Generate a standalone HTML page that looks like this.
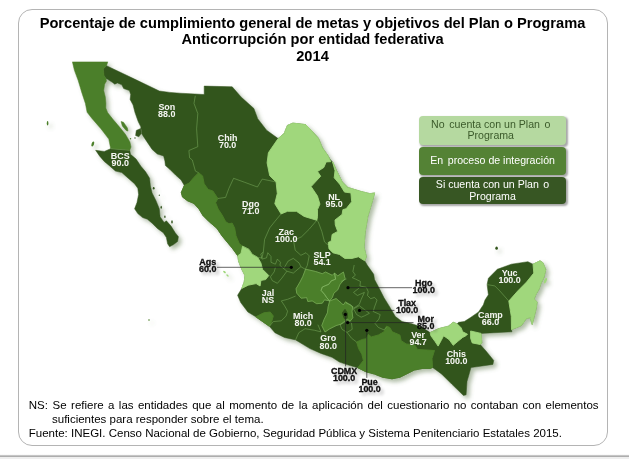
<!DOCTYPE html>
<html lang="es"><head><meta charset="utf-8"><title>Porcentaje de cumplimiento</title>
<style>
html,body{margin:0;padding:0;background:#fff;}
body{width:629px;height:459px;position:relative;overflow:hidden;font-family:"Liberation Sans",sans-serif;}
.frame{position:absolute;left:18px;top:9px;width:588px;height:435px;border:1px solid #b4b4b4;border-radius:14px;box-sizing:content-box;}
.bar{position:absolute;left:0;top:454px;width:629px;height:5px;background:linear-gradient(#fff 0,#f4f4f4 1px,#c6c6c6 1px,#c6c6c6 2px,#adadad 2px,#adadad 3px,#eee 3px,#eee 5px);}
.title{position:absolute;left:18px;width:589px;top:14.7px;text-align:center;font-weight:bold;font-size:14.67px;line-height:16.5px;color:#000;white-space:nowrap;}
.title div{display:block}
.lg{position:absolute;left:419.4px;width:146.3px;border-radius:4px;text-align:center;font-size:10.6px;line-height:11.8px;box-shadow:1.5px 1.5px 2px rgba(0,0,0,.35);white-space:pre;}
.g1{margin-left:1.7px}.g2{margin-left:1.5px}
.foot{position:absolute;font-size:11.5px;color:#000;white-space:nowrap;line-height:14px;}
</style></head><body>
<div class="frame"></div>
<div class="bar"></div>
<div class="title"><div id="t1" style="letter-spacing:0">Porcentaje de cumplimiento general de metas y objetivos del Plan o Programa</div><div id="t2">Anticorrupción por entidad federativa</div><div id="t3">2014</div></div>
<svg width="629" height="459" viewBox="0 0 629 459" style="position:absolute;left:0;top:0">
<defs><filter id="sh" x="-10%" y="-10%" width="125%" height="125%"><feGaussianBlur in="SourceAlpha" stdDeviation="2"/><feOffset dx="2.8" dy="2.8"/><feColorMatrix type="matrix" values="0 0 0 0 0.12  0 0 0 0 0.2  0 0 0 0 0.08  0 0 0 0.5 0"/><feComponentTransfer><feFuncA type="linear" slope="1"/></feComponentTransfer><feMerge><feMergeNode/><feMergeNode in="SourceGraphic"/></feMerge></filter>
<filter id="ts" x="-20%" y="-20%" width="140%" height="140%"><feGaussianBlur in="SourceAlpha" stdDeviation="0.5"/><feOffset dx="0.4" dy="0.4"/><feComponentTransfer><feFuncA type="linear" slope="0.3"/></feComponentTransfer><feMerge><feMergeNode/><feMergeNode in="SourceGraphic"/></feMerge></filter><filter id="tb" x="-30%" y="-30%" width="170%" height="190%"><feGaussianBlur in="SourceAlpha" stdDeviation="1.7"/><feOffset dx="2.5" dy="2.5"/><feComponentTransfer><feFuncA type="linear" slope="0.22"/></feComponentTransfer><feMerge><feMergeNode/><feMergeNode in="SourceGraphic"/></feMerge></filter></defs>
<g filter="url(#sh)">
<g stroke-width="0.6" stroke-linejoin="round">
<polygon points="106.5,65.7 134.5,79.1 159.3,91.0 170.0,92.4 180.0,93.2 204.2,94.5 204.2,86.1 232.2,86.8 241.1,97.0 253.9,108.5 257.7,118.7 266.6,130.2 278.1,138.6 284.2,133.4 287.4,125.4 292.9,123.1 305.6,124.6 310.4,129.4 318.4,138.2 322.3,147.7 327.9,155.6 330.2,159.5 332.6,161.9 336.6,170.7 342.1,181.8 347.7,187.4 360.4,191.3 370.0,193.7 374.7,192.9 371.6,203.7 367.8,216.4 365.2,231.7 364.0,247.0 366.3,256.8 364.7,260.8 367.5,265.5 373.7,274.3 374.5,279.5 378.3,286.6 384.0,297.8 388.8,305.4 395.4,316.6 402.0,321.5 411.0,323.5 421.1,326.8 430.1,332.6 438.8,328.6 448.4,326.2 453.2,322.3 457.1,323.8 458.7,322.3 464.3,321.5 470.6,317.5 478.6,311.9 483.4,304.8 485.0,300.0 488.4,294.8 487.1,284.6 488.4,278.2 497.3,269.3 511.3,264.2 527.9,261.7 533.0,264.2 540.0,260.8 542.9,262.7 545.7,269.6 543.9,277.5 541.0,283.3 539.0,289.2 536.1,294.1 534.1,299.0 537.1,302.0 536.1,308.8 534.1,316.7 532.2,324.5 530.2,317.6 526.3,318.6 521.4,325.5 514.5,328.4 511.5,329.6 512.0,331.8 481.0,333.4 481.8,342.9 480.2,344.5 486.0,351.0 493.7,360.4 492.9,364.4 471.0,367.6 467.0,381.5 466.1,394.8 463.5,395.5 451.7,384.1 441.5,373.9 432.6,367.5 430.0,368.5 422.2,368.5 414.3,370.1 407.9,373.3 400.0,377.2 392.0,378.8 382.5,377.2 374.5,374.1 365.8,371.7 357.8,367.7 349.1,365.3 339.5,362.1 332.0,357.3 321.0,353.4 309.9,348.6 302.0,343.8 295.6,339.9 284.5,337.5 274.9,332.7 269.4,326.3 263.8,322.4 255.8,316.8 247.9,312.0 240.7,302.5 237.6,295.3 241.8,288.4 244.2,282.0 245.0,275.6 241.8,269.3 238.6,261.3 237.8,255.8 232.2,248.0 228.3,243.4 222.0,235.8 216.9,228.2 209.3,221.8 202.9,215.4 199.1,209.1 194.0,203.4 187.6,200.8 182.5,197.0 181.3,192.5 184.3,185.4 181.1,179.9 175.6,175.1 170.0,169.5 165.4,165.5 164.9,161.0 163.6,155.9 157.3,154.0 152.2,149.5 147.1,141.9 142.0,134.3 140.7,126.6 138.2,121.5 135.0,112.6 133.1,105.0 130.1,99.4 130.7,94.4 129.4,90.5 123.7,88.6 121.8,84.8 117.4,82.9 114.8,84.2 112.3,82.3 107.2,79.1 105.9,78.6 103.8,75.3 103.2,68.9" fill="#32541D" stroke="#32541D" stroke-width="0.5"/>
<polygon points="72.4,61.9 107.8,61.9 106.5,65.7 103.4,68.9 104.0,75.3 105.9,78.4 106.5,81.0 104.6,84.2 103.7,90.5 105.3,96.9 105.9,103.3 105.8,108.0 107.6,112.6 112.7,119.0 119.1,126.6 125.4,134.3 129.9,141.9 131.0,147.0 129.7,150.3 110.7,148.7 108.8,139.1 101.1,128.9 92.2,118.7 87.1,112.3 85.4,103.4 82.0,93.2 78.2,80.5 74.4,70.3" fill="#4C7F29" stroke="#4C7F29" stroke-width="0.5"/>
<polygon points="95.6,150.3 104.3,151.4 110.7,148.7 129.7,150.3 130.5,154.3 136.1,159.1 140.9,166.2 145.6,171.8 149.6,178.2 150.4,186.1 152.1,192.9 156.1,200.9 159.3,208.8 160.1,216.8 164.1,222.4 166.4,220.8 171.2,226.3 175.2,232.7 178.4,236.7 177.6,241.4 173.6,244.6 169.6,246.7 167.6,243.8 166.4,237.5 163.3,232.7 157.7,228.7 152.1,223.2 147.4,219.2 142.6,217.6 137.8,213.6 134.6,208.8 137.0,202.5 138.6,194.5 137.8,188.2 134.5,183.7 128.2,178.2 121.8,172.6 115.4,171.0 109.1,165.4 104.3,161.5 99.5,155.9" fill="#32541D" stroke="#32541D" stroke-width="0.5"/>
<polygon points="184.3,185.4 181.3,192.5 182.5,197.0 187.6,200.8 194.0,203.4 199.1,209.1 202.9,215.4 209.3,221.8 216.9,228.2 222.0,235.8 228.3,243.4 232.2,248.0 237.8,255.8 241.0,253.4 242.6,246.2 239.2,243.4 236.0,235.8 234.7,228.2 232.2,223.1 229.0,223.7 225.8,221.8 222.0,214.8 218.2,209.1 215.6,202.7 217.9,198.5 212.9,191.0 208.2,189.4 204.2,183.8 202.6,175.9 198.6,172.7 193.8,177.5 189.1,183.1" fill="#4C7F29" stroke="#4C7F29" stroke-width="0.9"/>
<polygon points="278.1,138.6 284.2,133.4 287.4,125.4 292.9,123.1 305.6,124.6 310.4,129.4 318.4,138.2 322.3,147.7 327.9,155.6 330.8,161.7 326.2,161.9 323.8,167.5 317.5,171.5 320.7,176.2 311.1,186.6 317.5,196.1 319.9,204.1 317.5,209.6 317.5,216.8 316.8,220.3 304.1,216.4 296.4,211.3 287.5,211.3 281.1,213.9 274.8,203.7 277.3,193.5 276.1,182.0 269.7,175.7 267.1,162.9 268.4,152.7" fill="#A0D77C" stroke="#A0D77C" stroke-width="0.9"/>
<polygon points="332.6,161.9 336.6,170.7 342.1,181.8 347.7,187.4 360.4,191.3 370.0,193.7 374.7,192.9 371.6,203.7 367.8,216.4 365.2,231.7 364.0,247.0 366.3,256.8 364.7,260.8 358.4,256.8 352.0,258.4 344.8,258.4 339.3,254.4 332.9,252.8 329.0,248.8 328.2,242.5 331.3,240.9 332.1,234.5 337.7,231.4 335.3,225.0 335.0,220.0 342.1,214.4 342.9,209.6 346.1,208.8 351.7,201.7 350.9,192.9 344.5,192.1 339.7,184.2 334.2,177.8 335.0,170.7" fill="#A0D77C" stroke="#A0D77C" stroke-width="0.9"/>
<polygon points="242.6,246.2 249.0,249.4 252.1,254.2 257.7,257.4 260.9,262.9 262.5,269.3 268.8,275.6 265.6,279.6 260.9,280.4 260.1,286.0 256.1,283.6 248.2,285.2 241.8,288.4 244.2,282.0 245.0,275.6 241.8,269.3 238.6,261.3 237.8,255.8 241.0,253.4" fill="#A0D77C" stroke="#A0D77C" stroke-width="0.9"/>
<polygon points="305.6,269.2 315.6,271.5 322.3,273.7 325.6,272.0 332.3,275.3 334.5,273.1 335.6,279.2 331.2,280.9 328.9,284.2 322.3,287.0 321.1,290.4 324.5,294.3 326.7,297.6 329.5,300.9 324.5,299.8 322.3,303.2 316.7,303.7 312.2,300.9 307.8,301.5 306.7,297.6 301.1,298.2 296.7,293.1 296.1,288.7 300.0,282.0 302.8,276.5" fill="#4C7F29" stroke="#4C7F29" stroke-width="0.9"/>
<polygon points="334.5,273.1 337.8,275.9 343.4,272.0 345.1,278.7 340.1,284.2 337.8,289.8 333.9,293.1 332.3,297.6 329.5,300.9 326.7,297.6 324.5,294.3 321.1,290.4 322.3,287.0 328.9,284.2 331.2,280.9 335.6,279.2" fill="#4C7F29" stroke="#4C7F29" stroke-width="0.9"/>
<polygon points="329.7,301.0 336.1,298.6 340.9,302.6 343.3,305.0 345.6,301.8 348.8,304.2 352.8,306.6 352.0,311.3 352.8,317.7 350.4,320.9 347.2,319.3 340.9,324.1 336.1,325.6 329.7,328.8 325.0,332.0 321.8,325.6 324.2,319.3 327.4,312.9 328.2,306.6" fill="#4C7F29" stroke="#4C7F29" stroke-width="0.9"/>
<polygon points="342.3,313.0 345.0,309.3 347.5,313.5 347.2,318.2 344.3,318.6" fill="#32541D" stroke="#32541D" stroke-width="0.9"/>
<polygon points="255.8,316.8 263.8,312.8 270.2,312.0 273.3,316.0 271.7,321.6 269.4,326.3 263.8,322.4" fill="#4C7F29" stroke="#4C7F29" stroke-width="0.9"/>
<polygon points="357.8,367.7 363.4,360.5 361.8,354.2 358.6,348.6 356.6,342.0 362.4,339.4 366.2,338.8 368.3,334.4 371.3,336.9 378.3,335.0 384.0,331.8 386.5,326.1 389.7,327.4 392.3,331.8 399.9,335.0 401.2,340.7 406.2,343.9 415.0,345.2 417.4,349.4 434.5,350.5 432.0,358.6 432.6,367.5 430.0,368.5 422.2,368.5 414.3,370.1 407.9,373.3 400.0,377.2 392.0,378.8 382.5,377.2 374.5,374.1 365.8,371.7" fill="#4C7F29" stroke="#4C7F29" stroke-width="0.9"/>
<polygon points="430.1,332.6 438.8,328.6 448.4,326.2 453.2,322.3 457.1,323.8 461.1,327.8 462.7,331.8 467.5,334.2 465.9,335.8 462.7,337.4 457.9,341.3 453.2,345.3 449.2,339.7 446.0,337.4 443.6,335.8 441.2,340.5 438.1,346.1 434.9,341.3 430.9,335.8" fill="#A0D77C" stroke="#A0D77C" stroke-width="0.9"/>
<polygon points="470.6,331.0 481.0,333.4 481.8,342.9 480.2,344.5 472.2,342.9 470.6,338.2" fill="#A0D77C" stroke="#A0D77C" stroke-width="0.9"/>
<polygon points="533.0,264.2 540.0,260.8 542.9,262.7 545.7,269.6 543.9,277.5 541.0,283.3 539.0,289.2 536.1,294.1 534.1,299.0 537.1,302.0 536.1,308.8 534.1,316.7 532.2,324.5 530.2,317.6 526.3,318.6 521.4,325.5 514.5,328.4 511.5,329.6 511.3,316.4 508.8,301.1 517.7,291.0 526.6,282.0 533.8,273.1" fill="#A0D77C" stroke="#A0D77C" stroke-width="0.9"/>
</g>
<polygon points="136.3,130.4 140.7,128.5 141.3,133.6 138.8,136.8 135.6,135.5" fill="#32541D" stroke="#32541D" stroke-width="0.5" stroke-linejoin="round"/>
<polygon points="121.0,121.5 123.5,122.2 127.4,127.9 128.0,131.1 126.1,130.4 122.3,126.0" fill="#4C7F29" stroke="#4C7F29" stroke-width="0.5" stroke-linejoin="round"/>
<circle cx="130.5" cy="138.7" r="0.7" fill="#4C7F29"/>
<circle cx="135" cy="138" r="0.7" fill="#32541D"/>
<ellipse cx="47.6" cy="123.3" rx="0.8" ry="2.2" fill="#4C7F29"/>
<ellipse cx="92.8" cy="144" rx="1.2" ry="2.6" transform="rotate(20 92.8 144)" fill="#4C7F29"/>
<ellipse cx="224.5" cy="272" rx="1.6" ry="0.9" transform="rotate(40 224.5 272)" fill="#A0D77C"/>
<ellipse cx="227.5" cy="275.5" rx="1.4" ry="0.8" transform="rotate(40 227.5 275.5)" fill="#A0D77C"/>
<ellipse cx="153.7" cy="188.2" rx="0.9" ry="1.2" fill="#32541D"/>
<ellipse cx="159.3" cy="195.3" rx="0.6" ry="0.8" fill="#32541D"/>
<ellipse cx="161.2" cy="207.3" rx="0.7" ry="1.5" fill="#32541D"/>
<ellipse cx="164.9" cy="216.8" rx="0.7" ry="1.2" fill="#32541D"/>
<ellipse cx="172.0" cy="221.9" rx="0.8" ry="1.6" fill="#32541D"/>
<circle cx="149" cy="320" r="0.8" fill="#4C7F29"/>
<ellipse cx="496.6" cy="248.2" rx="1.3" ry="1.6" fill="#32541D"/>
<ellipse cx="545.3" cy="280.8" rx="1.3" ry="3" transform="rotate(25 545.3 280.8)" fill="#A0D77C"/>
</g>
<g fill="none" stroke="#7fb060" stroke-width="0.5">
<polyline points="195.3,95.8 194.0,103.4 197.8,113.6 196.6,128.9 197.8,146.7 188.9,150.5 189.6,157.8 192.3,160.0 195.4,171.1 198.6,172.7"/>
<polyline points="217.9,198.5 225.6,197.4 228.8,188.6 233.6,178.3 244.7,182.3 257.4,187.0 262.2,179.1 270.0,180.7 276.1,182.0"/>
<polyline points="281.1,213.9 274.8,221.5 269.7,227.9 264.6,239.4 263.3,252.1 262.0,258.0"/>
<polyline points="316.8,220.3 309.2,229.2 301.5,236.8 293.5,240.5 295.2,250.2 300.9,255.3 306.0,252.7 309.2,255.9 307.3,265.4 305.3,269.3"/>
<polyline points="316.8,220.3 318.1,221.5 321.9,231.7 324.5,241.9 329.0,246.0"/>
<polyline points="487.1,284.6 494.8,285.9 499.9,291.0 508.8,301.1"/>
<polyline points="269.4,326.3 273.3,321.6 281.3,320.8 286.1,316.0 287.6,311.2 284.5,305.7 281.3,300.9 287.6,299.3 295.6,296.1"/>
<polyline points="295.6,339.9 298.8,332.7 305.1,328.7 314.7,330.3 321.0,331.9 317.9,324.7"/>
<polyline points="354.2,265.0 352.9,271.4 355.4,275.2 352.3,277.7 355.4,279.0 360.5,281.5 359.9,286.0 366.3,287.3 368.2,291.7 367.5,295.5 370.7,298.7 374.5,297.4 377.1,300.0 374.5,307.0 373.2,311.5 380.2,314.6 378.9,319.1 375.1,323.5 378.3,327.4 384.0,329.9 386.4,327.2"/>
<polyline points="346.5,279.0 340.8,281.5"/>
<polyline points="345.9,303.2 350.4,304.4 353.5,308.3 359.3,304.4 361.2,299.4 364.4,292.4 357.4,295.5 353.5,292.4 359.3,287.9"/>
<polyline points="353.5,308.9 359.3,305.7 364.4,309.5 369.4,313.3 364.4,315.9 361.2,317.2 356.7,314.6 353.5,308.9"/>
<polyline points="340.1,324.8 347.7,320.4 351.5,322.9 352.2,329.3 347.1,332.4 342.0,329.3 340.1,324.8"/>
<polyline points="347.1,332.4 351.5,338.2 356.6,342.0"/>
<polyline points="242.6,246.2 249.0,249.4 252.1,254.2 257.7,257.4 262.0,258.0"/>
<polyline points="263.3,252.1 260.8,254.0 262.1,259.1 266.5,257.8 267.8,252.7 271.0,256.5 271.0,262.3 275.4,264.2 277.4,259.1 280.5,262.3 279.9,265.4 283.7,268.6"/>
<polyline points="286.9,271.2 281.8,278.2 277.4,283.3 272.3,280.7 270.4,276.9 274.2,271.8 275.4,267.4"/>
<polyline points="300.9,266.7 305.3,269.3"/>
<polygon points="305.6,269.2 315.6,271.5 322.3,273.7 325.6,272.0 332.3,275.3 334.5,273.1 335.6,279.2 331.2,280.9 328.9,284.2 322.3,287.0 321.1,290.4 324.5,294.3 326.7,297.6 329.5,300.9 324.5,299.8 322.3,303.2 316.7,303.7 312.2,300.9 307.8,301.5 306.7,297.6 301.1,298.2 296.7,293.1 296.1,288.7 300.0,282.0 302.8,276.5" stroke="#8fc070"/>
<polygon points="334.5,273.1 337.8,275.9 343.4,272.0 345.1,278.7 340.1,284.2 337.8,289.8 333.9,293.1 332.3,297.6 329.5,300.9 326.7,297.6 324.5,294.3 321.1,290.4 322.3,287.0 328.9,284.2 331.2,280.9 335.6,279.2" stroke="#8fc070"/>
<polygon points="329.7,301.0 336.1,298.6 340.9,302.6 343.3,305.0 345.6,301.8 348.8,304.2 352.8,306.6 352.0,311.3 352.8,317.7 350.4,320.9 347.2,319.3 340.9,324.1 336.1,325.6 329.7,328.8 325.0,332.0 321.8,325.6 324.2,319.3 327.4,312.9 328.2,306.6" stroke="#8fc070"/>
<polygon points="283.7,268.6 288.2,261.0 293.3,258.4 299.0,262.9 300.9,266.7 293.3,273.1 286.9,271.2"/>
<line x1="110.7" y1="148.7" x2="129.7" y2="150.3"/>
</g>
<g stroke="#222" stroke-width="0.7">
<line x1="217.0" y1="267.3" x2="291.3" y2="267.3"/>
<line x1="348.0" y1="287.7" x2="412.2" y2="287.7"/>
<line x1="359.5" y1="310.4" x2="394.4" y2="310.4"/>
<line x1="347.6" y1="322.6" x2="413.5" y2="322.6"/>
<line x1="345.6" y1="314.2" x2="345.6" y2="366.4"/>
<line x1="366.8" y1="330.3" x2="366.8" y2="377.9"/>
</g>
<circle cx="291.3" cy="267.3" r="1.6" fill="#000"/>
<circle cx="348.0" cy="287.7" r="1.6" fill="#000"/>
<circle cx="359.5" cy="310.4" r="1.6" fill="#000"/>
<circle cx="347.6" cy="322.6" r="1.6" fill="#000"/>
<circle cx="345.4" cy="314.4" r="1.6" fill="#000"/>
<circle cx="366.8" cy="330.3" r="1.6" fill="#000"/>
<g font-family="'Liberation Sans', sans-serif" font-weight="bold" font-size="8.2" text-anchor="middle">
<g filter="url(#ts)" fill="#f4f6f0"><text transform="translate(166.8,110.2) scale(1.09,1)">Son</text><text transform="translate(166.8,117.3) scale(1.09,1)">88.0</text></g>
<g filter="url(#ts)" fill="#f4f6f0"><text transform="translate(120.3,158.9) scale(1.09,1)">BCS</text><text transform="translate(120.3,166.0) scale(1.09,1)">90.0</text></g>
<g filter="url(#ts)" fill="#f4f6f0"><text transform="translate(227.6,140.8) scale(1.09,1)">Chih</text><text transform="translate(227.6,147.9) scale(1.09,1)">70.0</text></g>
<g filter="url(#ts)" fill="#f4f6f0"><text transform="translate(250.8,206.5) scale(1.09,1)">Dgo</text><text transform="translate(250.8,213.6) scale(1.09,1)">71.0</text></g>
<g filter="url(#ts)" fill="#f4f6f0"><text transform="translate(334.1,199.6) scale(1.09,1)">NL</text><text transform="translate(334.1,206.7) scale(1.09,1)">95.0</text></g>
<g filter="url(#ts)" fill="#f4f6f0"><text transform="translate(286.2,235.1) scale(1.09,1)">Zac</text><text transform="translate(286.2,242.2) scale(1.09,1)">100.0</text></g>
<g filter="url(#ts)" fill="#f4f6f0"><text transform="translate(322.1,257.8) scale(1.09,1)">SLP</text><text transform="translate(322.1,264.9) scale(1.09,1)">54.1</text></g>
<g filter="url(#ts)" fill="#f4f6f0"><text transform="translate(268.0,296.3) scale(1.09,1)">Jal</text><text transform="translate(268.0,303.4) scale(1.09,1)">NS</text></g>
<g filter="url(#ts)" fill="#f4f6f0"><text transform="translate(303.1,318.5) scale(1.09,1)">Mich</text><text transform="translate(303.1,325.6) scale(1.09,1)">80.0</text></g>
<g filter="url(#ts)" fill="#f4f6f0"><text transform="translate(328.3,341.4) scale(1.09,1)">Gro</text><text transform="translate(328.3,348.5) scale(1.09,1)">80.0</text></g>
<g filter="url(#ts)" fill="#f4f6f0"><text transform="translate(418.1,337.9) scale(1.09,1)">Ver</text><text transform="translate(418.1,345.0) scale(1.09,1)">94.7</text></g>
<g filter="url(#ts)" fill="#f4f6f0"><text transform="translate(456.3,357.0) scale(1.09,1)">Chis</text><text transform="translate(456.3,364.1) scale(1.09,1)">100.0</text></g>
<g filter="url(#ts)" fill="#f4f6f0"><text transform="translate(490.4,318.0) scale(1.09,1)">Camp</text><text transform="translate(490.4,325.1) scale(1.09,1)">66.0</text></g>
<g filter="url(#ts)" fill="#f4f6f0"><text transform="translate(509.6,276.1) scale(1.09,1)">Yuc</text><text transform="translate(509.6,283.2) scale(1.09,1)">100.0</text></g>
<g stroke="#0a0a0a" stroke-width="0.25">
<g filter="url(#tb)" fill="#0a0a0a"><text transform="translate(207.8,264.5) scale(1.09,1)">Ags</text><text transform="translate(207.8,271.6) scale(1.09,1)">60.0</text></g>
<g filter="url(#tb)" fill="#0a0a0a"><text transform="translate(423.7,285.9) scale(1.09,1)">Hgo</text><text transform="translate(423.7,293.0) scale(1.09,1)">100.0</text></g>
<g filter="url(#tb)" fill="#0a0a0a"><text transform="translate(407.1,306.3) scale(1.09,1)">Tlax</text><text transform="translate(407.1,313.4) scale(1.09,1)">100.0</text></g>
<g filter="url(#tb)" fill="#0a0a0a"><text transform="translate(425.7,321.8) scale(1.09,1)">Mor</text><text transform="translate(425.7,328.9) scale(1.09,1)">85.0</text></g>
<g filter="url(#tb)" fill="#0a0a0a"><text transform="translate(344.1,373.8) scale(1.09,1)">CDMX</text><text transform="translate(344.1,380.9) scale(1.09,1)">100.0</text></g>
<g filter="url(#tb)" fill="#0a0a0a"><text transform="translate(369.6,384.5) scale(1.09,1)">Pue</text><text transform="translate(369.6,391.6) scale(1.09,1)">100.0</text></g>
</g>
</g>
</svg>
<div class="lg" style="top:116.4px;height:28.5px;background:#B5D9A0;color:#3b5a2a;"><div style="padding-top:2.2px;padding-right:3.6px">No<span class="g1"> </span>cuenta con un Plan<span class="g2"> </span>o
Programa</div></div>
<div class="lg" style="top:147px;height:27.6px;background:#548235;color:#fff;"><div style="padding-top:7.6px">En<span class="g1"> </span>proceso de integración</div></div>
<div class="lg" style="top:176.6px;height:27.9px;background:#375623;color:#fff;"><div style="padding-top:2.2px">Si cuenta con un Plan<span class="g2"> </span>o
Programa</div></div>
<div class="foot" id="f0" style="left:28.8px;top:398.3px;">NS:</div>
<div class="foot" id="f1" style="left:52.6px;top:398.3px;word-spacing:1.2px">Se refiere a las entidades que al momento de la aplicación del cuestionario no contaban con elementos</div>
<div class="foot" id="f2" style="left:52px;top:412.3px;">suficientes para responder sobre el tema.</div>
<div class="foot" id="f3" style="left:28.8px;top:426.2px;">Fuente: INEGI. Censo Nacional de Gobierno, Seguridad Pública y Sistema Penitenciario Estatales 2015.</div>
</body></html>
